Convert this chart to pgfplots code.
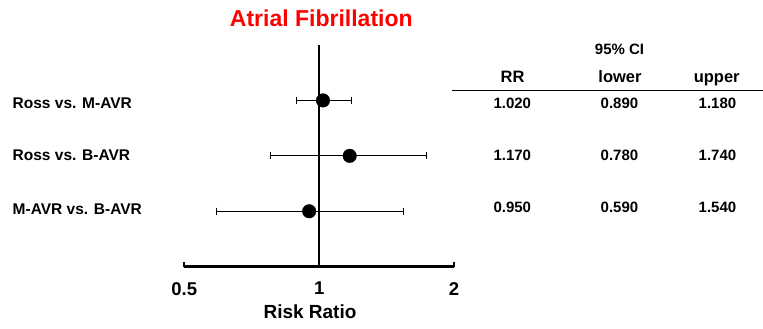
\documentclass[border=0pt]{standalone}
\usepackage{fontspec}
\setmainfont{Liberation Sans}
\usepackage{pgfplots}
\pgfplotsset{compat=1.18}
\usepackage{pgfplotstable}
\definecolor{titlered}{RGB}{255,0,0}
\pgfplotstableread{
y rr lo hi
3 1.02 0.89 1.18
2 1.17 0.78 1.74
1 0.95 0.59 1.54
}\forest
\newcommand{\fs}[1]{\fontsize{#1}{#1}\selectfont\bfseries}
\begin{document}
\begin{tikzpicture}[x=1pt,y=1pt]
\useasboundingbox (0,0) rectangle (763,329);
\begin{axis}[
  at={(184.3pt,62.3pt)}, anchor=south west,
  scale only axis, width=269.7pt, height=221.7pt,
  xmode=log, xmin=0.5, xmax=2, ymin=0, ymax=4,
  axis x line=bottom, x axis line style={-, line width=2.4pt},
  hide y axis, clip=false,
  xtick={0.5,1,2}, xticklabels={0.5,1,2},
  tick align=inside, major tick length=4.5pt,
  tick style={line width=1.8pt, black},
  xticklabel style={font=\fs{18.5}, yshift=-12pt},
  minor xtick={},
]
\addplot[black, line width=2.6pt, forget plot] coordinates {(1,0) (1,4)};
\foreach \r in {0,1,2}{
  \pgfplotstablegetelem{\r}{y}\of\forest \let\yy\pgfplotsretval
  \pgfplotstablegetelem{\r}{lo}\of\forest \let\ll\pgfplotsretval
  \pgfplotstablegetelem{\r}{hi}\of\forest \let\hh\pgfplotsretval
  \edef\tmp{\noexpand\addplot[black, line width=1.1pt, mark=|, mark size=3.5pt, mark options={line width=1.1pt}] coordinates {(\ll,\yy) (\hh,\yy)};}
  \tmp
}
\addplot[only marks, mark=*, mark size=6.8pt, black] table[x=rr, y=y] {\forest};
\end{axis}
\node[anchor=base, text=titlered] at (321.3,302.5) {\fs{23}Atrial Fibrillation};
\node[anchor=base west, inner sep=0] at (12.5,220) {\fs{15.5}Ross vs. M-AVR};
\node[anchor=base west, inner sep=0] at (12.5,168.3) {\fs{15.5}Ross vs. B-AVR};
\node[anchor=base west, inner sep=0] at (12.5,114) {\fs{15.5}M-AVR vs. B-AVR};
\node[anchor=base, inner sep=0] at (310,10) {\fs{19}Risk Ratio};
\node[anchor=base, inner sep=0] at (619.5,274.7) {\fs{15}95\% CI};
\node[anchor=base, inner sep=0] at (512.5,246.3) {\fs{16.5}RR};
\node[anchor=base, inner sep=0] at (620,246.3) {\fs{16.5}lower};
\node[anchor=base, inner sep=0] at (716.7,246.3) {\fs{16.5}upper};
\draw[line width=1.3pt] (452,238.3) -- (763,238.3);
\foreach \a/\b/\c/\yb in {1.020/0.890/1.180/220, 1.170/0.780/1.740/168.3, 0.950/0.590/1.540/116.3}{
  \node[anchor=base, inner sep=0] at (512.3,\yb) {\fs{15}\a};
  \node[anchor=base, inner sep=0] at (619.5,\yb) {\fs{15}\b};
  \node[anchor=base, inner sep=0] at (717.5,\yb) {\fs{15}\c};
}
\end{tikzpicture}
\end{document}
